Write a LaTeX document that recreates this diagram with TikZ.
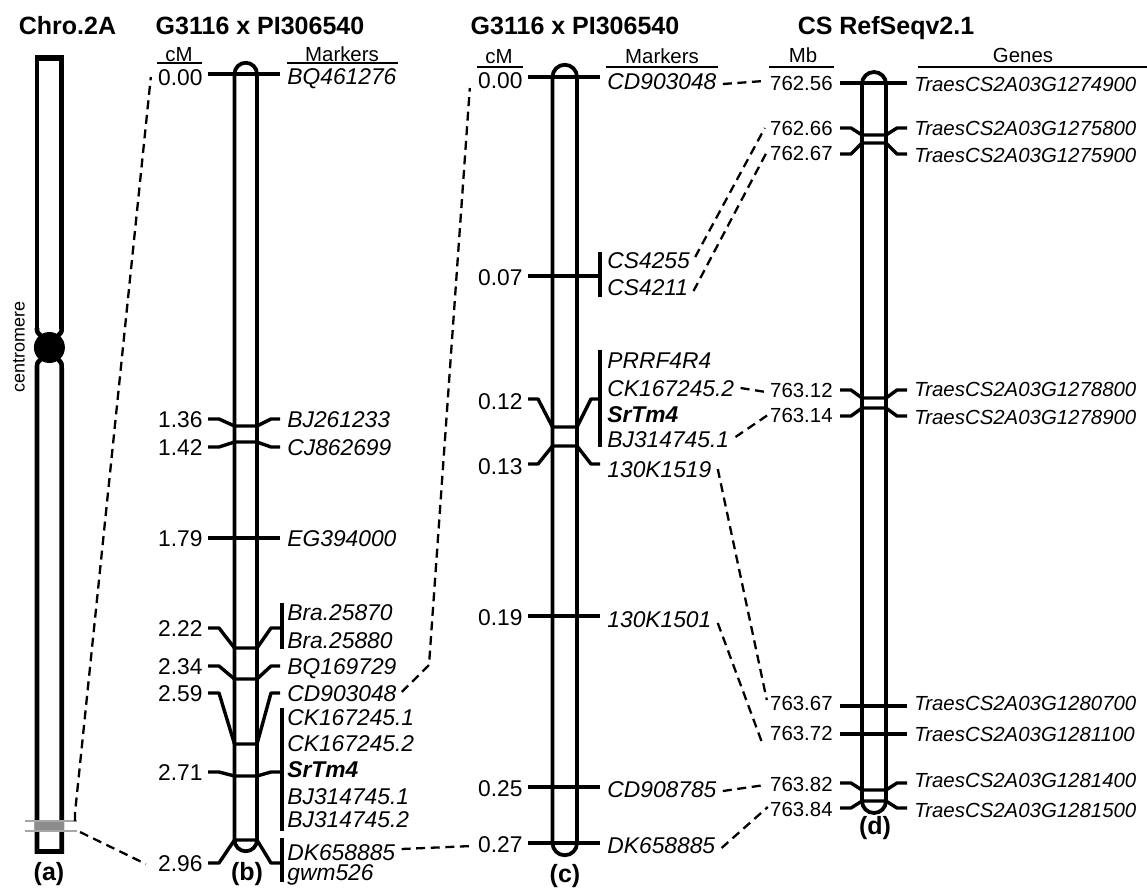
\documentclass[tikz,border=0pt]{standalone}
\usepackage{fontspec}
\setmainfont{Liberation Sans}
\usetikzlibrary{calc}
\newcommand\lbf{\fontsize{11.4}{13}\selectfont}
\newcommand\gnf{\fontsize{10.2}{12}\selectfont}
\newcommand\hdf{\fontsize{10.2}{12}\selectfont}
\newcommand\ttlf{\fontsize{12.5}{14}\selectfont\bfseries}
\newcommand\pnf{\fontsize{12.5}{14}\selectfont\bfseries}
\newcommand\cmrf{\fontsize{9}{11}\selectfont}
\begin{document}
\begin{tikzpicture}[x=0.5pt,y=-0.5pt,
  chrom/.style={line width=1.9pt},
  mk/.style={line width=1.7pt,line join=round},
  brk/.style={line width=1.7pt},
  ul/.style={line width=1.3pt},
  dsh/.style={line width=1.15pt,dash pattern=on 4.5pt off 2.8pt},
  numl/.style={inner sep=0pt,anchor=east,font=\lbf,text height=8.2pt,text depth=0pt},
  labr/.style={inner sep=0pt,anchor=west,font=\lbf\itshape,text height=8.2pt,text depth=0pt},
  numd/.style={inner sep=0pt,anchor=east,font=\gnf,text height=7.3pt,text depth=0pt},
  gend/.style={inner sep=0pt,anchor=west,font=\gnf\itshape,text height=7.3pt,text depth=0pt},
  hdr/.style={inner sep=0pt,font=\hdf,text height=7.3pt,text depth=0pt},
  ttl/.style={inner sep=0pt,font=\ttlf,text height=9pt,text depth=0pt},
  pnl/.style={inner sep=0pt,font=\pnf},
]
\useasboundingbox (0,0) rectangle (1147,890);

% ---------- titles ----------
\node[ttl] (t1) at (67.5,25) {Chro.2A};
\node[ttl] (t2) at (260,25) {G3116 x PI306540};
\node[ttl] (t3) at (575,25) {G3116 x PI306540};
\node[ttl] (t4) at (886,25) {CS RefSeqv2.1};

% ---------- panel (a) ----------
\draw[line width=2.3pt] (37,328) .. controls (37,332) .. (41,336);
\draw[line width=2.3pt] (37,329) -- (37,57.5) -- (61.7,57.5) -- (61.7,329);
\draw[line width=3pt] (36,57.5) -- (62.7,57.5);
\draw[line width=2.3pt] (61.7,328) .. controls (61.7,332) .. (57.8,336);
\draw[line width=2.3pt] (41,359) .. controls (37,363) .. (37,368) -- (37,851.5) -- (61.7,851.5) -- (61.7,368) .. controls (61.7,363) .. (57.8,359);
\fill[black] (49.4,347.5) circle[radius=7.75pt];
\node[inner sep=0pt,rotate=90,font=\cmrf] (cen) at (19,347) {centromere};
\fill[black!45] (35,821) rectangle (64,831);
\draw[black!35,line width=0.8pt] (25,821) -- (77,821);
\draw[black!35,line width=0.8pt] (25,831) -- (77,831);
\coordinate (bandT) at (75,821);
\coordinate (bandB) at (80,832);
\node[pnl] (pa) at (49,874) {(a)};

% ---------- panel (b) ----------
\node[hdr] (bcm) at (179,54) {cM};
\draw[ul] (157,63) -- (202,63);
\node[hdr] (bmk) at (342,54) {Markers};
\draw[ul] (287,63) -- (398,63);

\draw[chrom,rounded corners=5.625pt] (234.5,62.75) rectangle (257,851.25);
\draw[mk] (208,74) -- (280,74);
\draw[mk] (208,419) -- (219,419) -- (234.5,426) -- (257,426) -- (271,419) -- (280,419);
\draw[mk] (208,447) -- (219,447) -- (234.5,442) -- (257,442) -- (271,447) -- (280,447);
\draw[mk] (208,538) -- (280,538);
\draw[mk] (208,628) -- (219,628) -- (234.5,648) -- (257,648) -- (271,628) -- (282,628);
\draw[mk] (208,666) -- (219,666) -- (234.5,679) -- (257,679) -- (271,666) -- (280,666);
\draw[mk] (208,693) -- (219,693) -- (234.5,744) -- (257,744) -- (271,693) -- (280,693);
\draw[mk] (208,772) -- (219,772) -- (234.5,776) -- (257,776) -- (271,772) -- (282,772);
\draw[mk] (208,863) -- (219,863) -- (234.5,840) -- (257,840) -- (271,863) -- (282,863);
\draw[brk] (282,603) -- (282,649);
\draw[brk] (282,708) -- (282,831);
\draw[brk] (282,838) -- (282,882);

\node[numl] (bn000) at (203,77) {0.00};
\node[numl] (bn136) at (203,419) {1.36};
\node[numl] (bn142) at (203,447) {1.42};
\node[numl] (bn179) at (203,538) {1.79};
\node[numl] (bn222) at (203,628) {2.22};
\node[numl] (bn234) at (203,666) {2.34};
\node[numl] (bn259) at (203,693) {2.59};
\node[numl] (bn271) at (203,772) {2.71};
\node[numl] (bn296) at (203,863) {2.96};

\node[labr] (bBQa) at (287,76) {BQ461276};
\node[labr] (bBJa) at (287,419) {BJ261233};
\node[labr] (bCJ) at (287,447) {CJ862699};
\node[labr] (bEG) at (287,538) {EG394000};
\node[labr] (bBra1) at (287,612) {Bra.25870};
\node[labr] (bBra2) at (287,640) {Bra.25880};
\node[labr] (bBQb) at (287,666) {BQ169729};
\node[labr] (bCD) at (287,693) {CD903048};
\node[labr] (bCK1) at (287,717) {CK167245.1};
\node[labr] (bCK2) at (287,743) {CK167245.2};
\node[labr,font=\lbf\bfseries\itshape] (bSr) at (287,769) {SrTm4};
\node[labr] (bBJ1) at (287,796) {BJ314745.1};
\node[labr] (bBJ2) at (287,819) {BJ314745.2};
\node[labr] (bDK) at (287,852) {DK658885};
\node[labr] (bgwm) at (287,872) {gwm526};
\node[pnl] (pb) at (247,874) {(b)};

% ---------- panel (c) ----------
\node[hdr] (ccm) at (499,56) {cM};
\draw[ul] (477,67) -- (523,67);
\node[hdr] (cmk) at (662,56) {Markers};
\draw[ul] (606,67) -- (718,67);

\draw[chrom,rounded corners=6.125pt] (552.5,64.75) rectangle (577,855.25);
\draw[mk] (528,77) -- (600,77);
\draw[mk] (528,276) -- (600,276);
\draw[mk] (528,399) -- (538,399) -- (552.5,427) -- (577,427) -- (591,399) -- (600,399);
\draw[mk] (528,464) -- (538,464) -- (552.5,446) -- (577,446) -- (591,464) -- (600,464);
\draw[mk] (528,616) -- (600,616);
\draw[mk] (528,787) -- (600,787);
\draw[mk] (528,843) -- (600,843);
\draw[brk] (600,252) -- (600,297);
\draw[brk] (600,350) -- (600,447);

\node[numl] (cn000) at (523,80) {0.00};
\node[numl] (cn007) at (523,277) {0.07};
\node[numl] (cn012) at (523,401) {0.12};
\node[numl] (cn013) at (523,466) {0.13};
\node[numl] (cn019) at (523,617) {0.19};
\node[numl] (cn025) at (523,788) {0.25};
\node[numl] (cn027) at (523,844) {0.27};

\node[labr] (cCD) at (607,81) {CD903048};
\node[labr] (cCSa) at (607,260) {CS4255};
\node[labr] (cCSb) at (607,287) {CS4211};
\node[labr] (cPR) at (607,360) {PRRF4R4};
\node[labr] (cCK2) at (607,388) {CK167245.2};
\node[labr,font=\lbf\bfseries\itshape] (cSr) at (607,414) {SrTm4};
\node[labr] (cBJ1) at (607,439) {BJ314745.1};
\node[labr] (c130a) at (607,469) {130K1519};
\node[labr] (c130b) at (607,619) {130K1501};
\node[labr] (cCD9) at (607,789) {CD908785};
\node[labr] (cDK) at (607,845) {DK658885};
\node[pnl] (pc) at (565,876) {(c)};

% ---------- panel (d) ----------
\node[hdr] (dmb) at (803,55) {Mb};
\draw[ul] (769,67) -- (834,67);
\node[hdr] (dgn) at (1023,55) {Genes};
\draw[ul] (918,67) -- (1147,67);

\draw[chrom,rounded corners=6pt] (862,72) rectangle (886,813);
\draw[mk] (840,83) -- (907,83);
\draw[mk] (840,128) -- (851,128) -- (862,135) -- (886,135) -- (897,128) -- (907,128);
\draw[mk] (840,154) -- (851,154) -- (862,143) -- (886,143) -- (897,154) -- (907,154);
\draw[mk] (840,390) -- (851,390) -- (862,398) -- (886,398) -- (897,390) -- (907,390);
\draw[mk] (840,416) -- (851,416) -- (862,408) -- (886,408) -- (897,416) -- (907,416);
\draw[mk] (840,706) -- (907,706);
\draw[mk] (840,734) -- (907,734);
\draw[mk] (840,783) -- (851,783) -- (862,790) -- (886,790) -- (897,783) -- (907,783);
\draw[mk] (840,808) -- (851,808) -- (862,801) -- (886,801) -- (897,808) -- (907,808);

\node[numd] (dn56) at (833,83) {762.56};
\node[numd] (dn66) at (833,128) {762.66};
\node[numd] (dn67) at (833,153) {762.67};
\node[numd] (dn12) at (833,390) {763.12};
\node[numd] (dn14) at (833,415) {763.14};
\node[numd] (dn67b) at (833,703) {763.67};
\node[numd] (dn72) at (833,733) {763.72};
\node[numd] (dn82) at (833,784) {763.82};
\node[numd] (dn84) at (833,809) {763.84};

\node[gend] (dg1) at (914,84) {TraesCS2A03G1274900};
\node[gend] (dg2) at (914,128) {TraesCS2A03G1275800};
\node[gend] (dg3) at (914,155) {TraesCS2A03G1275900};
\node[gend] (dg4) at (914,389) {TraesCS2A03G1278800};
\node[gend] (dg5) at (914,417) {TraesCS2A03G1278900};
\node[gend] (dg6) at (914,703) {TraesCS2A03G1280700};
\node[gend] (dg7) at (914,734) {TraesCS2A03G1281100};
\node[gend] (dg8) at (914,780) {TraesCS2A03G1281400};
\node[gend] (dg9) at (914,810) {TraesCS2A03G1281500};
\node[pnl] (pd) at (875,828) {(d)};

% ---------- dashed connectors ----------
\draw[dsh] (bandT) -- ++(0,-8) -- ($(bn000.west)+(-7,0)$);
\draw[dsh] (bandB) -- ($(bn296.west)+(-12,1)$);
\coordinate (kink) at (429,665);
\draw[dsh] ($(bCD.east)+(5,-1)$) -- (kink) -- ($(cn000.west)+(-8,8)$);
\draw[dsh] ($(bDK.east)+(6,-3)$) -- ($(cn027.west)+(-6,2)$);
\draw[dsh] ($(cCD.east)+(6,3)$) -- ($(dn56.west)+(-6,-2)$);
\draw[dsh] ($(cCSa.east)+(5,-3)$) -- ($(dn66.west)+(-5,0)$);
\draw[dsh] ($(cCSb.east)+(5,4)$) -- ($(dn67.west)+(-3,-1)$);
\draw[dsh] ($(cCK2.east)+(6,0)$) -- ($(dn12.west)+(-4,2)$);
\draw[dsh] ($(cBJ1.east)+(6,-2)$) -- ($(dn14.west)+(-2,0)$);
\draw[dsh] ($(c130a.east)+(6,0)$) -- ($(dn67b.west)+(-3,-3)$);
\draw[dsh] ($(c130b.east)+(6,4)$) -- ($(dn72.west)+(-8,9)$);
\draw[dsh] ($(cCD9.east)+(6,2)$) -- ($(dn82.west)+(-5,1)$);
\draw[dsh] ($(cDK.east)+(6,3)$) -- ($(dn84.west)+(-2,-2)$);
\end{tikzpicture}
\end{document}
